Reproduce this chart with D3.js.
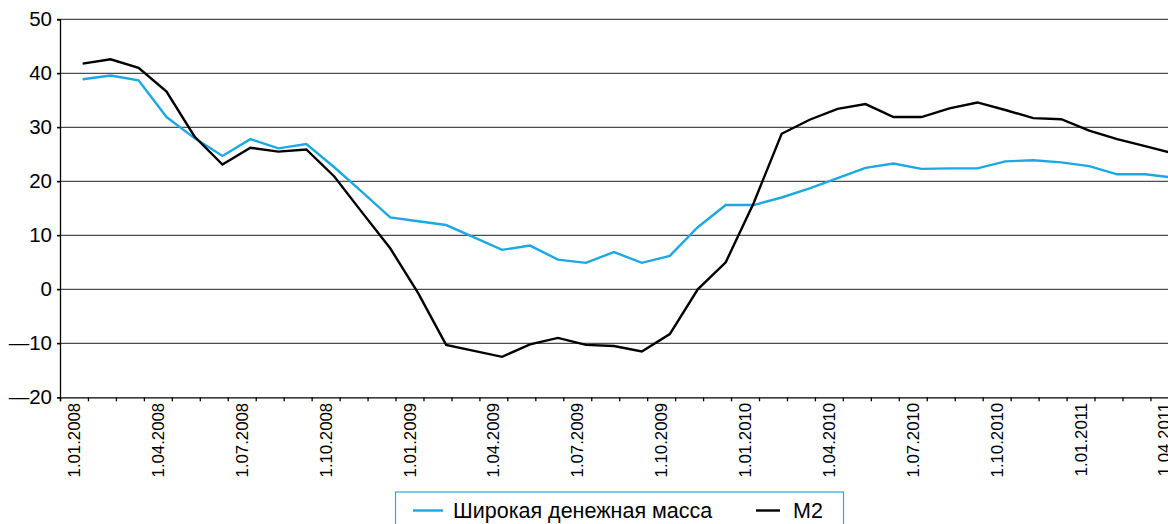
<!DOCTYPE html>
<head>
  <meta charset="utf-8">
  <script src="https://d3js.org/d3.v7.min.js"></script>
  <style>
    body { margin:0; background:#fff; }
    text { font-family: "Liberation Sans", Arial, sans-serif; fill:#000; }
    .grid line { stroke:#4d4d4d; stroke-width:1.3; }
  </style>
</head>
<body>
<script>
  // месяцы (подписи оси X)
  var months = ["1.01.2008","1.02.2008","1.03.2008","1.04.2008","1.05.2008","1.06.2008","1.07.2008","1.08.2008","1.09.2008","1.10.2008","1.11.2008","1.12.2008",
                "1.01.2009","1.02.2009","1.03.2009","1.04.2009","1.05.2009","1.06.2009","1.07.2009","1.08.2009","1.09.2009","1.10.2009","1.11.2009","1.12.2009",
                "1.01.2010","1.02.2010","1.03.2010","1.04.2010","1.05.2010","1.06.2010","1.07.2010","1.08.2010","1.09.2010","1.10.2010","1.11.2010","1.12.2010",
                "1.01.2011","1.02.2011","1.03.2011","1.04.2011"];

  var broadMoney = [38.9,39.6,38.7,31.9,28.0,24.7,27.8,26.1,26.9,22.6,18.0,13.3,
                    12.6,11.9,9.6,7.3,8.1,5.5,4.9,6.9,4.9,6.2,11.5,15.6,
                    15.6,17.0,18.7,20.6,22.5,23.3,22.3,22.4,22.4,23.7,23.9,23.5,
                    22.8,21.3,21.3,20.7];

  var m2 = [41.8,42.6,41.0,36.6,28.3,23.1,26.2,25.5,25.9,20.9,14.2,7.6,
            -0.7,-10.3,-11.4,-12.5,-10.2,-9.0,-10.3,-10.5,-11.5,-8.3,0.0,5.0,
            16.0,28.8,31.4,33.4,34.3,31.9,31.9,33.5,34.6,33.2,31.7,31.5,
            29.4,27.8,26.5,25.2];

  var yTicks = [-20,-10,0,10,20,30,40,50];

  var seriesNames = ["Широкая денежная масса","M2"];
  var seriesColors = ["#1ca8e2","#000000"];

  var width = 1168, height = 524;
  var left = 60, bandW = 27.96;

  var svg = d3.select("body").append("svg")
    .attr("width", width)
    .attr("height", height);

  var x = d3.scaleLinear()
    .domain([0, months.length])
    .range([left, left + months.length*bandW]);

  var y = d3.scaleLinear()
    .domain([-20, 50])
    .range([397.3, 19.3]);

  // сетка
  svg.append("g")
    .attr("class","grid")
    .selectAll("line")
    .data(yTicks.filter(function(d){return d > -20;}))
    .enter().append("line")
    .attr("x1", left-3).attr("x2", width)
    .attr("y1", function(d){return y(d);})
    .attr("y2", function(d){return y(d);});

  // ось Y
  var yAxis = d3.axisLeft(y).tickValues(yTicks).tickSize(3)
    .tickFormat(function(d){ return d < 0 ? "\u2014" + Math.abs(d) : d; });
  var gy = svg.append("g")
    .attr("transform","translate(" + left + ",0)")
    .call(yAxis);
  gy.select(".domain").attr("stroke","#000").attr("stroke-width",1.3);
  gy.selectAll(".tick line").attr("stroke","#000").attr("stroke-width",1.3);
  gy.selectAll(".tick text")
    .attr("x",-8)
    .style("font-size","20.5px")
    .style("font-family","'Liberation Sans', Arial, sans-serif");

  // ось X
  var xAxis = d3.axisBottom(x).tickValues(d3.range(0, months.length+1)).tickSize(4).tickFormat("");
  var gx = svg.append("g")
    .attr("transform","translate(0," + y(-20) + ")")
    .call(xAxis);
  gx.select(".domain").attr("stroke","#000").attr("stroke-width",1.3);
  gx.selectAll(".tick line").attr("stroke","#000").attr("stroke-width",1.3);

  svg.append("g").selectAll("text")
    .data(months.filter(function(d,i){return i % 3 == 0;}))
    .enter().append("text")
    .attr("transform", function(d){
      var i = months.indexOf(d);
      return "translate(" + x(i+0.5) + "," + (y(-20)+5.5) + ") rotate(-90)";
    })
    .attr("dy","0.36em")
    .attr("text-anchor","end")
    .style("font-size","16.8px")
    .text(function(d){return d;});

  // линии
  var line = d3.line()
    .x(function(d,i){ return x(i + 0.81); })
    .y(function(d){ return y(d); });

  [broadMoney, m2].forEach(function(s, k){
    svg.append("path")
      .datum(s)
      .attr("fill","none")
      .attr("stroke", seriesColors[k])
      .attr("stroke-width", 2.4)
      .attr("stroke-linejoin","miter")
      .attr("d", line);
  });

  // легенда
  var lg = svg.append("g");
  lg.append("rect")
    .attr("x",395.5).attr("y",492)
    .attr("width",448).attr("height",40)
    .attr("fill","#fff")
    .attr("stroke","#29abe2")
    .attr("stroke-width",1.2);

  var legX = [413, 756], legW = [30, 24], legT = [453, 793];
  seriesNames.forEach(function(n, k){
    lg.append("line")
      .attr("x1", legX[k]).attr("x2", legX[k]+legW[k])
      .attr("y1", 510.5).attr("y2", 510.5)
      .attr("stroke", seriesColors[k])
      .attr("stroke-width", 2.4);
    lg.append("text")
      .attr("x", legT[k]).attr("y", 518)
      .style("font-size","21.5px")
      .text(n);
  });
</script>
</body>
